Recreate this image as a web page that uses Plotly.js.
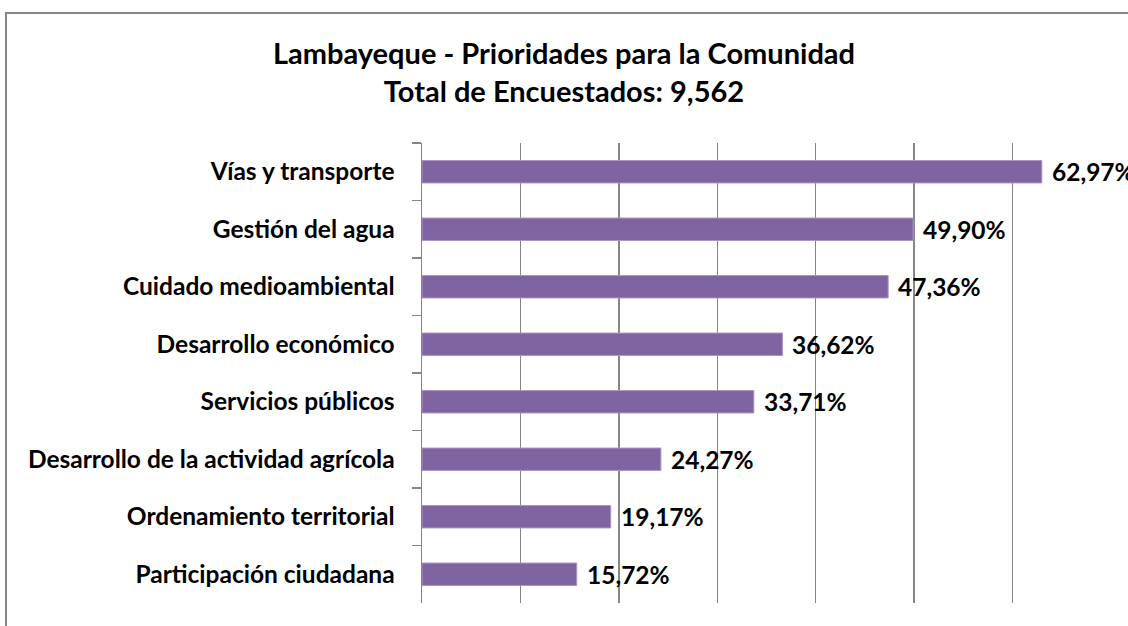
<!DOCTYPE html>
<html>
<head>
<meta charset="utf-8">
<script src="https://cdn.plot.ly/plotly-3.0.1.min.js"></script>
<style>
html,body{margin:0;padding:0;background:#fff;}
#wrap{position:relative;width:1128px;height:626px;overflow:hidden;}
#chart{width:1128px;height:626px;}
#frame{position:absolute;left:5px;top:12px;width:1200px;height:700px;border-left:2px solid #878787;border-top:2px solid #878787;pointer-events:none;}
</style>
</head>
<body>
<div id="wrap">
<div id="chart"></div>
<div id="frame"></div>
</div>
<script>
const categories = [
  "Vías y transporte",
  "Gestión del agua",
  "Cuidado medioambiental",
  "Desarrollo económico",
  "Servicios públicos",
  "Desarrollo de la actividad agrícola",
  "Ordenamiento territorial",
  "Participación ciudadana"
];
const values = [62.97, 49.90, 47.36, 36.62, 33.71, 24.27, 19.17, 15.72];
const titleLines = ["Lambayeque - Prioridades para la Comunidad", "Total de Encuestados: 9,562"];

const labels = values.map(v => v.toFixed(2).replace('.', ',') + '%');
const FONT = 'Lato, "Open Sans", sans-serif';

const trace = {
  type: 'bar',
  orientation: 'h',
  y: categories,
  x: values,
  marker: {color: '#8064A2', line: {color: '#A996C2', width: 1}},
  hoverinfo: 'none'
};

const annotations = values.map((v, i) => ({
  x: v, y: categories[i], xref: 'x', yref: 'y',
  text: labels[i], showarrow: false,
  xanchor: 'left', yanchor: 'middle', xshift: 8,
  font: {family: FONT, size: 24.5, color: '#000', weight: 'bold'}
}));

const layout = {
  width: 1128,
  height: 626,
  margin: {l: 422, r: 17, t: 143, b: 23, pad: 0},
  paper_bgcolor: 'rgba(0,0,0,0)',
  plot_bgcolor: 'rgba(0,0,0,0)',
  bargap: 0.61,
  showlegend: false,
  annotations: annotations,
  title: {
    text: titleLines.join('<br>'),
    font: {family: FONT, size: 29, color: '#000', weight: 'bold'},
    xref: 'container', x: 0.5, xanchor: 'center',
    yref: 'container', y: 1 - 64/626, yanchor: 'top'
  },
  xaxis: {
    range: [0, 70],
    dtick: 10,
    showgrid: true,
    gridcolor: '#868686',
    gridwidth: 1.5,
    showticklabels: false,
    zeroline: false,
    showline: false,
    ticks: '',
    fixedrange: true
  },
  yaxis: {
    type: 'category',
    autorange: 'reversed',
    tickson: 'boundaries',
    ticks: 'outside',
    ticklen: 9,
    tickwidth: 1.5,
    tickcolor: '#868686',
    showline: true,
    linecolor: '#868686',
    linewidth: 1.5,
    showgrid: false,
    ticklabelstandoff: 21,
    tickfont: {family: FONT, size: 24.5, color: '#000', weight: 'bold'},
    fixedrange: true
  }
};

Plotly.newPlot('chart', [trace], layout, {displayModeBar: false, staticPlot: true});
</script>
</body>
</html>
